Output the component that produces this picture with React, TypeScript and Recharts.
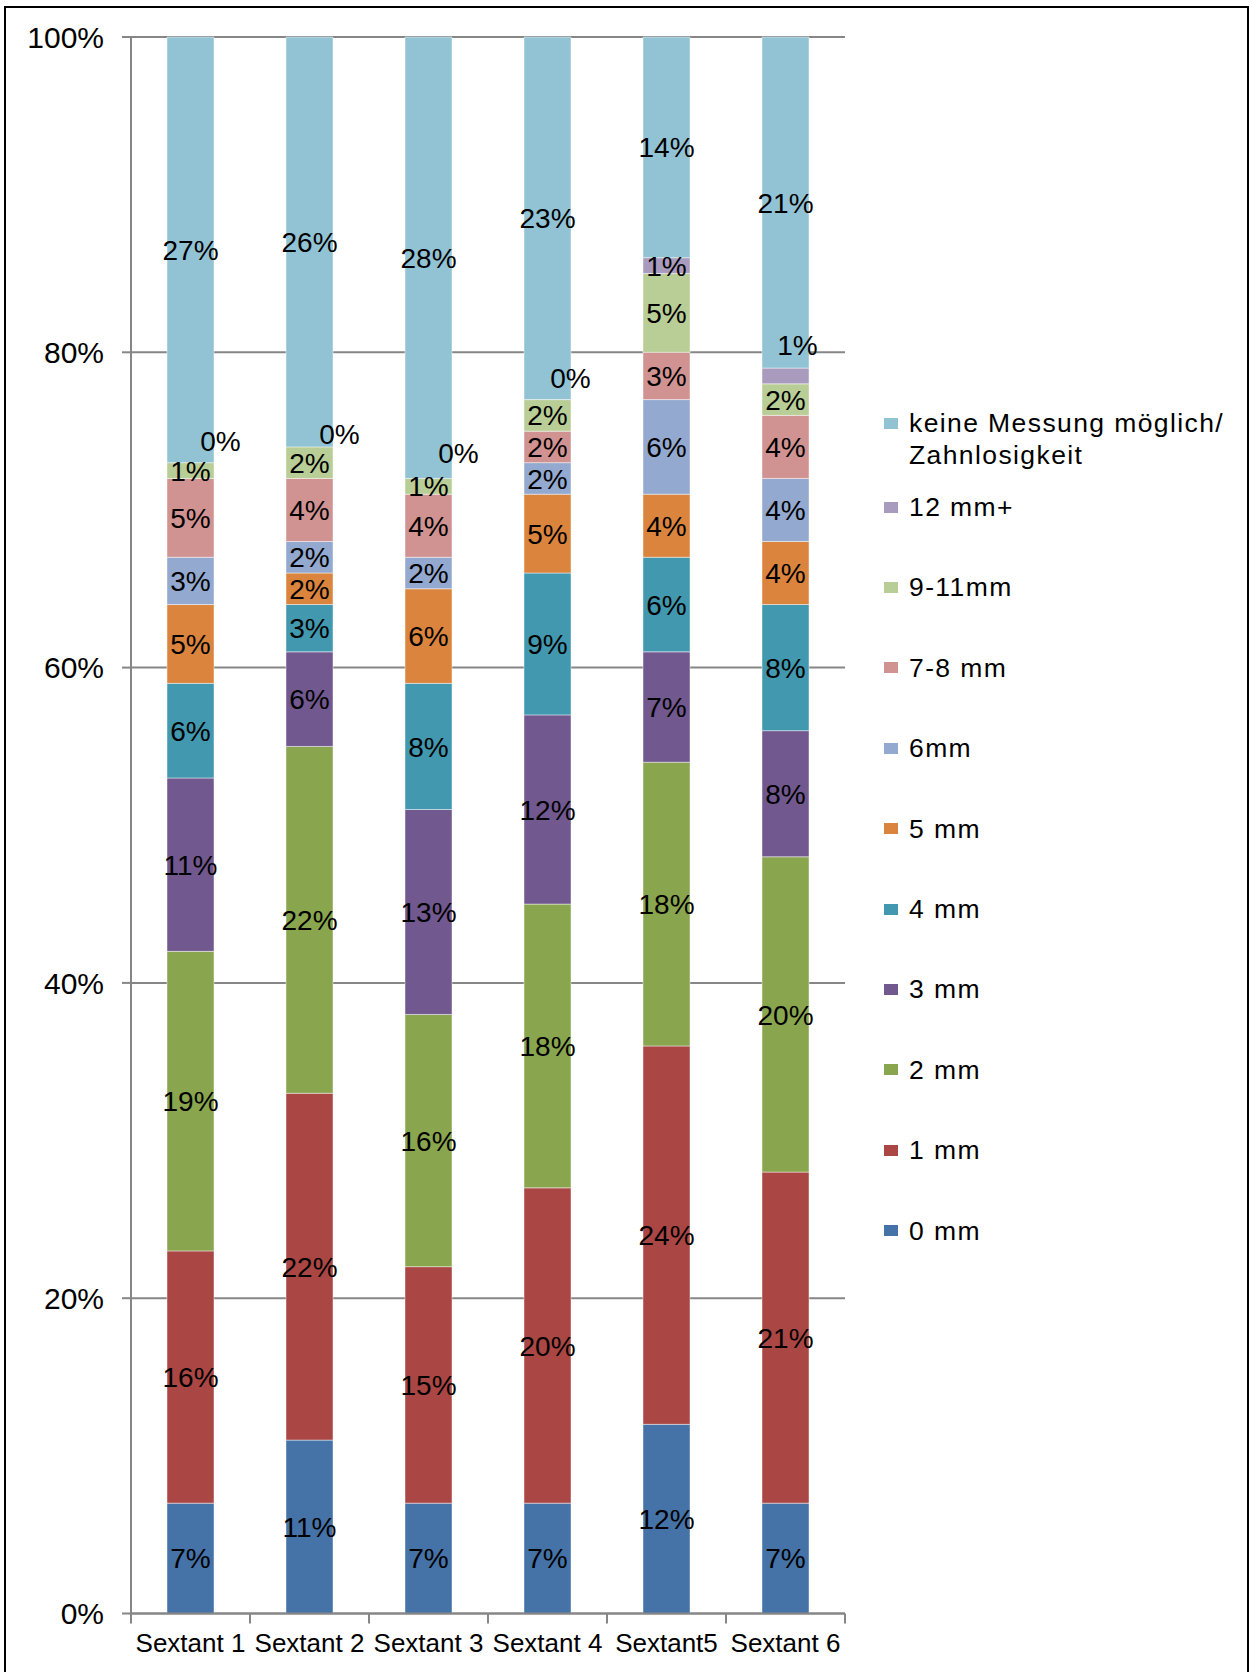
import { Bar, BarChart, CartesianGrid, LabelList, XAxis, YAxis } from "recharts";

// Sondierungstiefen je Sextant, Anteile in Prozent
const sextants = ["Sextant 1", "Sextant 2", "Sextant 3", "Sextant 4", "Sextant5", "Sextant 6"];

const mm0 = [7, 11, 7, 7, 12, 7];
const mm1 = [16, 22, 15, 20, 24, 21];
const mm2 = [19, 22, 16, 18, 18, 20];
const mm3 = [11, 6, 13, 12, 7, 8];
const mm4 = [6, 3, 8, 9, 6, 8];
const mm5 = [5, 2, 6, 5, 4, 4];
const mm6 = [3, 2, 2, 2, 6, 4];
const mm7to8 = [5, 4, 4, 2, 3, 4];
const mm9to11 = [1, 2, 1, 2, 5, 2];
const mm12plus = [0, 0, 0, 0, 1, 1];
const noMeasurement = [27, 26, 28, 23, 14, 21];

const yTicks = [0, 20, 40, 60, 80, 100];

const series = [
  { key: "mm0", name: "0 mm", color: "#4572A7", values: mm0 },
  { key: "mm1", name: "1 mm", color: "#AA4643", values: mm1 },
  { key: "mm2", name: "2 mm", color: "#89A54E", values: mm2 },
  { key: "mm3", name: "3 mm", color: "#71588F", values: mm3 },
  { key: "mm4", name: "4 mm", color: "#4198AF", values: mm4 },
  { key: "mm5", name: "5 mm", color: "#DB843D", values: mm5 },
  { key: "mm6", name: "6mm", color: "#93A9CF", values: mm6 },
  { key: "mm7to8", name: "7-8 mm", color: "#D19392", values: mm7to8 },
  { key: "mm9to11", name: "9-11mm", color: "#B9CD96", values: mm9to11 },
  { key: "mm12plus", name: "12 mm+", color: "#A99BBD", values: mm12plus },
  { key: "none", name: "keine Messung möglich/\nZahnlosigkeit", color: "#92C3D5", values: noMeasurement },
];

const data = sextants.map((name, i) => {
  const row: Record<string, string | number> = { name };
  series.forEach((s) => (row[s.key] = s.values[i]));
  return row;
});

// the thin "12 mm+" labels are pushed aside so they don't collide with neighbours
const labelNudge12: Record<number, [number, number]> = {
  0: [30, -22],
  1: [30, -13],
  2: [30, -26],
  3: [23, -22],
  5: [12, -31],
};

const W = 1250;
const H = 1672;
const PLOT_LEFT = 131;
const PLOT_RIGHT = 845;
const PLOT_TOP = 37;
const PLOT_BOTTOM = 1613.5;
const BAND = (PLOT_RIGHT - PLOT_LEFT) / sextants.length;
const AXIS_GRAY = "#868686";

const boxOf = (props: any) => {
  const vb = props.viewBox ?? {};
  return {
    x: props.x ?? vb.x,
    y: props.y ?? vb.y,
    width: props.width ?? vb.width,
    height: props.height ?? vb.height,
  };
};

const LabelText = ({ x, y, value }: { x: number; y: number; value: number }) => (
  <text x={x} y={y} dy="0.36em" textAnchor="middle" fontSize={28} fill="#000">
    {value}%
  </text>
);

const segmentLabel = (props: any) => {
  const { x, y, width, height } = boxOf(props);
  return <LabelText x={x + width / 2} y={y + height / 2} value={props.value} />;
};

// "12 mm+" is often 0 and has no rectangle, so its label hangs off the segment above it
const thinSegmentLabel = (props: any) => {
  const { x, y, width, height } = boxOf(props);
  const i = props.index;
  const unit = height / noMeasurement[i];
  const cy = y + height + (mm12plus[i] * unit) / 2;
  const [dx, dy] = labelNudge12[i] ?? [0, 0];
  return <LabelText x={x + width / 2 + dx} y={cy + dy} value={mm12plus[i]} />;
};

const SextantTick = (props: any) => {
  const { x, payload, index } = props;
  const left = x - BAND / 2;
  return (
    <g>
      <line x1={left} x2={left} y1={PLOT_BOTTOM} y2={PLOT_BOTTOM + 10} stroke={AXIS_GRAY} strokeWidth={2} />
      {index === sextants.length - 1 && (
        <line x1={x + BAND / 2} x2={x + BAND / 2} y1={PLOT_BOTTOM} y2={PLOT_BOTTOM + 10} stroke={AXIS_GRAY} strokeWidth={2} />
      )}
      <text x={x} y={PLOT_BOTTOM + 29} dy="0.36em" textAnchor="middle" fontSize={26} fill="#000">
        {payload.value}
      </text>
    </g>
  );
};

function ChartLegend() {
  const items = [...series].reverse();
  return (
    <div style={{ position: "absolute", left: 0, top: 0 }}>
      {items.map((s, i) => {
        const cy = i === 0 ? 423 : 507 + (i - 1) * 80.4;
        return (
          <div key={s.key}>
            <div
              style={{
                position: "absolute",
                left: 884,
                top: cy - 5.5,
                width: 14,
                height: 11,
                background: s.color,
              }}
            />
            <div
              style={{
                position: "absolute",
                left: 909,
                top: cy - 16,
                fontSize: 26.5,
                lineHeight: "32px",
                letterSpacing: 1.4,
                whiteSpace: "pre",
                color: "#000",
              }}
            >
              {s.name}
            </div>
          </div>
        );
      })}
    </div>
  );
}

export default function App() {
  return (
    <div
      style={{
        position: "absolute",
        left: 0,
        top: 0,
        width: W,
        height: H,
        overflow: "hidden",
        background: "#fff",
        fontFamily: '"Liberation Sans", Arial, sans-serif',
      }}
    >
      <div
        style={{
          position: "absolute",
          left: 4,
          top: 6,
          width: 1245,
          height: 1720,
          boxSizing: "border-box",
          border: "2px solid #000",
        }}
      />
      <div style={{ position: "absolute", left: 0, top: 0 }}>
        <BarChart
          width={W}
          height={H}
          data={data}
          margin={{ top: PLOT_TOP, right: W - PLOT_RIGHT, bottom: 0, left: 0 }}
          barSize={47}
        >
          <CartesianGrid vertical={false} stroke={AXIS_GRAY} strokeWidth={2} />
          <XAxis
            dataKey="name"
            height={H - PLOT_BOTTOM}
            tick={<SextantTick />}
            tickLine={false}
            tickSize={10}
            tickMargin={0}
            interval={0}
            axisLine={{ stroke: AXIS_GRAY, strokeWidth: 2 }}
          />
          <YAxis
            width={PLOT_LEFT}
            domain={[0, 100]}
            ticks={yTicks}
            interval={0}
            tickFormatter={(v) => `${v}%`}
            tick={{ fontSize: 30, fill: "#000" }}
            tickSize={9}
            tickMargin={18}
            tickLine={{ stroke: AXIS_GRAY, strokeWidth: 2 }}
            axisLine={{ stroke: AXIS_GRAY, strokeWidth: 2 }}
          />
          {series.map((s) => (
            <Bar
              key={s.key}
              dataKey={s.key}
              name={s.name}
              stackId="a"
              fill={s.color}
              stroke="rgba(255,255,255,0.45)"
              strokeWidth={1}
              isAnimationActive={false}
            >
              {s.key !== "mm12plus" && <LabelList dataKey={s.key} content={segmentLabel} />}
              {s.key === "none" && <LabelList dataKey="mm12plus" content={thinSegmentLabel} />}
            </Bar>
          ))}
        </BarChart>
      </div>
      <ChartLegend />
    </div>
  );
}
